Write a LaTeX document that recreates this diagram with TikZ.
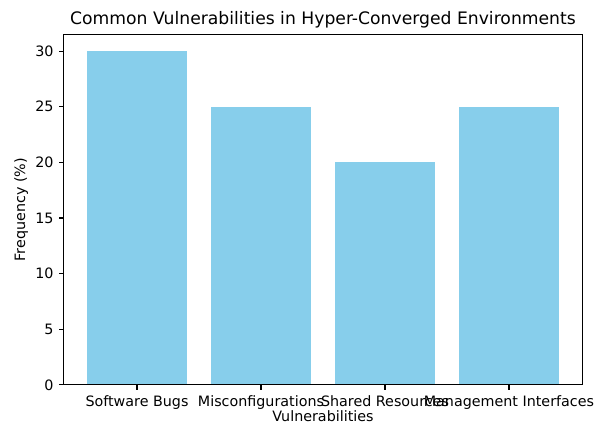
\documentclass[tikz,border=0pt]{standalone}
\usepackage{fontspec}
\setmainfont{DejaVu Sans}
\usepackage{tikz}
\usepackage{xcolor}
\usetikzlibrary{positioning}
\definecolor{skyblue}{RGB}{135,206,235}
\tikzset{%
  bar/.style={fill=skyblue,draw=none},
  spine/.style={line width=1.1pt,line cap=rect},
  tick/.style={line width=1.1pt},
  ticklabel/.style={font=\fontsize{14.3}{16}\selectfont,inner sep=0pt},
  axislabel/.style={font=\fontsize{14.3}{16}\selectfont,inner sep=0pt},
  title/.style={font=\fontsize{17.2}{20}\selectfont,inner sep=0pt},
}

\begin{document}
\begin{tikzpicture}[x=124pt,y=11.13pt,shift={(137pt,38pt)}]
      \useasboundingbox (-1.105,-3.414) rectangle (3.694,34.59);

      % bars
      \fill[bar] (-0.4,0) rectangle (0.4,30);
      \fill[bar] (0.6,0) rectangle (1.4,25);
      \fill[bar] (1.6,0) rectangle (2.4,20);
      \fill[bar] (2.6,0) rectangle (3.4,25);

      % frame
      \coordinate (ll) at (-0.59,0);
      \coordinate (ur) at (3.59,31.5);
      \draw[spine] (ll) rectangle (ur);

      % y ticks
      \draw[tick] (-0.59,0) -- ++(-4.9pt,0) node[ticklabel,left=4.9pt] (y0) {0};
      \draw[tick] (-0.59,5) -- ++(-4.9pt,0) node[ticklabel,left=4.9pt] (y5) {5};
      \draw[tick] (-0.59,10) -- ++(-4.9pt,0) node[ticklabel,left=4.9pt] (y10) {10};
      \draw[tick] (-0.59,15) -- ++(-4.9pt,0) node[ticklabel,left=4.9pt] (y15) {15};
      \draw[tick] (-0.59,20) -- ++(-4.9pt,0) node[ticklabel,left=4.9pt] (y20) {20};
      \draw[tick] (-0.59,25) -- ++(-4.9pt,0) node[ticklabel,left=4.9pt] (y25) {25};
      \draw[tick] (-0.59,30) -- ++(-4.9pt,0) node[ticklabel,left=4.9pt] (y30) {30};

      % x ticks
      \draw[tick] (0,0) -- ++(0,-4.9pt) node[ticklabel,below=4.9pt] (bugs) {Software Bugs};
      \draw[tick] (1,0) -- ++(0,-4.9pt) node[ticklabel,below=4.9pt] (misconf) {Misconfigurations};
      \draw[tick] (2,0) -- ++(0,-4.9pt) node[ticklabel,below=4.9pt] (shared) {Shared Resources};
      \draw[tick] (3,0) -- ++(0,-4.9pt) node[ticklabel,below=4.9pt] (mgmt) {Management Interfaces};

      % labels and title
      \node[axislabel,anchor=base] (xlabel) at (1.5,-3.3) {Vulnerabilities};
      \node[axislabel,rotate=90] (ylabel) at (-0.935,15.75) {Frequency (\%)};
      \node[title,anchor=base] (title) at (1.5,32.35) {Common Vulnerabilities in Hyper-Converged Environments};
    \end{tikzpicture}
\end{document}
